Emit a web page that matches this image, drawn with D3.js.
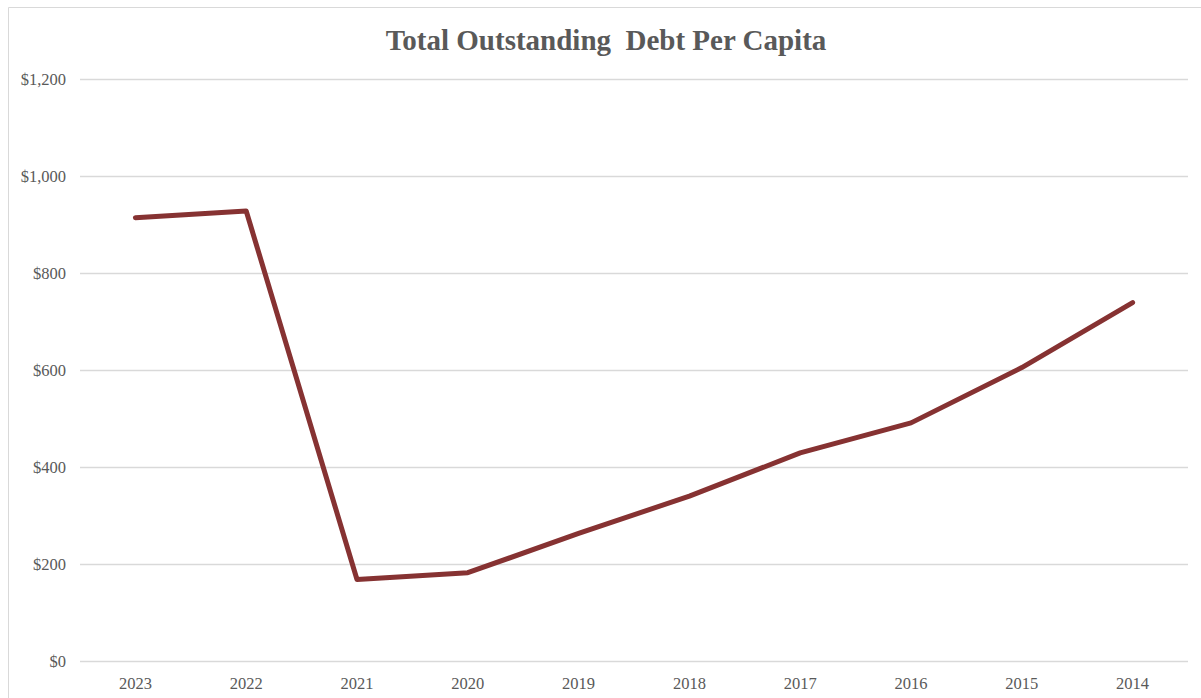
<!DOCTYPE html>
<html>
<head>
<meta charset="utf-8">
<script src="https://cdn.jsdelivr.net/npm/d3@7"></script>
<style>
    body { margin: 0; background: #fff; }
    text { font-family: "Liberation Serif", "Times New Roman", serif; fill: #595959; }
</style>
</head>
<body>
<script>
    // Data
    const years = ["2023", "2022", "2021", "2020", "2019", "2018", "2017", "2016", "2015", "2014"];
    const debtPerCapita = [914, 928, 168, 182, 263, 340, 429, 491, 605, 739];
    const yTicks = [0, 200, 400, 600, 800, 1000, 1200];

    const W = 1201, H = 698;
    const margin = { top: 79, right: 13, bottom: 37, left: 80 };

    const svg = d3.select("body").append("svg")
        .attr("width", W)
        .attr("height", H);

    // chart frame (only top and left edges show)
    svg.append("path")
        .attr("d", `M8.5,${H} V7.5 H${W}`)
        .attr("fill", "none")
        .attr("stroke", "#d9d9d9");

    const x = d3.scaleBand()
        .domain(years)
        .range([margin.left, W - margin.right]);

    const y = d3.scaleLinear()
        .domain([0, 1200])
        .range([H - margin.bottom, margin.top]);

    // gridlines
    svg.append("g")
        .selectAll("line")
        .data(yTicks)
        .join("line")
        .attr("x1", margin.left)
        .attr("x2", W - margin.right)
        .attr("y1", d => Math.round(y(d)) + 0.5)
        .attr("y2", d => Math.round(y(d)) + 0.5)
        .attr("stroke", "#d9d9d9")
        .attr("stroke-width", 1.3);

    // y labels
    svg.append("g")
        .selectAll("text")
        .data(yTicks)
        .join("text")
        .attr("x", 66)
        .attr("y", d => y(d))
        .attr("dy", "0.35em")
        .attr("text-anchor", "end")
        .attr("font-size", 16.5)
        .text(d => d3.format("$,")(d));

    // x labels
    svg.append("g")
        .selectAll("text")
        .data(years)
        .join("text")
        .attr("x", d => x(d) + x.bandwidth() / 2)
        .attr("y", H - margin.bottom + 28)
        .attr("text-anchor", "middle")
        .attr("font-size", 16.5)
        .text(d => d);

    // line
    const line = d3.line()
        .x((d, i) => x(years[i]) + x.bandwidth() / 2)
        .y(d => y(d));

    svg.append("path")
        .datum(debtPerCapita)
        .attr("d", line)
        .attr("fill", "none")
        .attr("stroke", "#863232")
        .attr("stroke-width", 5)
        .attr("stroke-linejoin", "round")
        .attr("stroke-linecap", "round");

    // title
    svg.append("text")
        .attr("x", 606)
        .attr("y", 50)
        .attr("text-anchor", "middle")
        .attr("font-size", 29)
        .attr("font-weight", "bold")
        .style("white-space", "pre")
        .text("Total Outstanding  Debt Per Capita");
</script>
</body>
</html>
